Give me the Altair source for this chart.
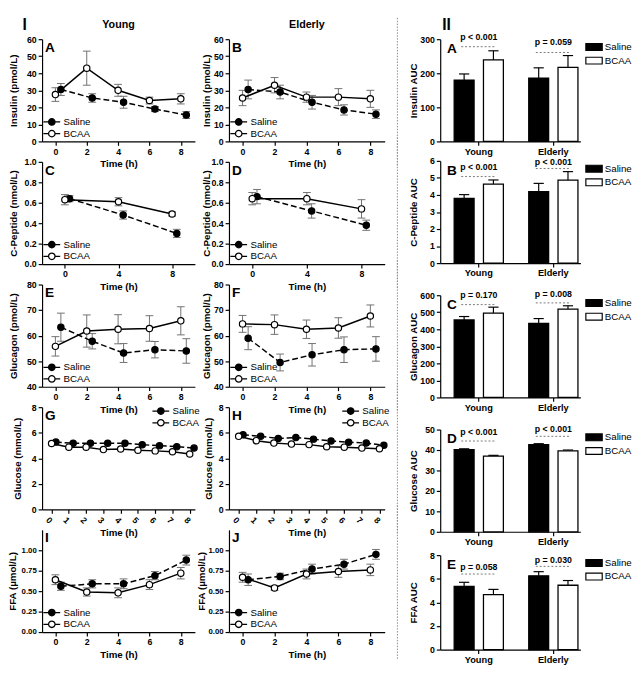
import altair as alt
import pandas as pd

FONT = "Liberation Sans"
ERR = "#707070"

groups = ["Saline", "BCAA"]
ages = ["Young", "Elderly"]

# ---------------- Section I : time courses (mean and SEM) ----------------
t5_bcaa = [0, 2, 4, 6, 8]
t5_sal = [0.35, 2.35, 4.35, 6.35, 8.35]
t3_bcaa = [0, 4, 8]
t3_sal = [0.35, 4.35, 8.35]
t9_bcaa = [0, 1, 2, 3, 4, 5, 6, 7, 8]
t9_sal = [0.25, 1.25, 2.25, 3.25, 4.25, 5.25, 6.25, 7.25, 8.25]

ins_young_sal = [30.5, 25.5, 23.0, 19.0, 15.5]
ins_young_sal_se = [3.5, 2.5, 3.5, 1.5, 2.0]
ins_young_bcaa = [27.5, 43.0, 30.0, 24.0, 25.0]
ins_young_bcaa_se = [4.0, 10.0, 3.5, 2.0, 3.0]
ins_old_sal = [30.5, 29.0, 23.0, 18.5, 16.0]
ins_old_sal_se = [5.5, 4.0, 4.0, 3.0, 2.5]
ins_old_bcaa = [25.5, 33.0, 26.0, 26.0, 25.0]
ins_old_bcaa_se = [4.5, 4.5, 3.0, 5.0, 5.0]

cp_young_sal = [0.64, 0.48, 0.30]
cp_young_sal_se = [0.03, 0.04, 0.04]
cp_young_bcaa = [0.63, 0.61, 0.49]
cp_young_bcaa_se = [0.05, 0.04, 0.02]
cp_old_sal = [0.66, 0.52, 0.38]
cp_old_sal_se = [0.07, 0.07, 0.05]
cp_old_bcaa = [0.64, 0.64, 0.54]
cp_old_bcaa_se = [0.06, 0.06, 0.09]

glg_young_sal = [63.3, 57.8, 53.2, 54.5, 54.0]
glg_young_sal_se = [5.5, 3.0, 3.7, 3.2, 4.8]
glg_young_bcaa = [55.8, 61.8, 62.5, 62.8, 65.8]
glg_young_bcaa_se = [3.8, 6.3, 5.7, 5.0, 5.5]
glg_old_sal = [59.0, 49.5, 52.5, 54.5, 54.8]
glg_old_sal_se = [4.5, 3.3, 4.4, 5.0, 4.8]
glg_old_bcaa = [64.6, 64.3, 62.5, 63.0, 67.7]
glg_old_bcaa_se = [3.3, 3.8, 3.6, 4.0, 4.3]

glc_young_sal = [5.27, 5.18, 5.18, 5.18, 5.18, 5.06, 4.99, 4.91, 4.80]
glc_young_bcaa = [5.16, 4.87, 4.87, 4.68, 4.73, 4.63, 4.58, 4.51, 4.34]
glc_old_sal = [5.84, 5.72, 5.55, 5.62, 5.50, 5.36, 5.26, 5.19, 5.02]
glc_old_bcaa = [5.72, 5.38, 5.19, 5.11, 5.07, 4.90, 4.87, 4.80, 4.75]

ffa_young_sal = [0.56, 0.59, 0.59, 0.69, 0.88]
ffa_young_sal_se = [0.05, 0.05, 0.06, 0.05, 0.06]
ffa_young_bcaa = [0.64, 0.49, 0.48, 0.58, 0.72]
ffa_young_bcaa_se = [0.06, 0.05, 0.06, 0.06, 0.07]
ffa_old_sal = [0.64, 0.68, 0.77, 0.83, 0.95]
ffa_old_sal_se = [0.07, 0.04, 0.06, 0.06, 0.06]
ffa_old_bcaa = [0.67, 0.54, 0.71, 0.74, 0.76]
ffa_old_bcaa_se = [0.06, 0.03, 0.06, 0.07, 0.07]

# ---------------- Section II : AUC bars ----------------
bar_ages = ["Young", "Young", "Elderly", "Elderly"]
bar_groups = ["Saline", "BCAA", "Saline", "BCAA"]

ins_auc = [180, 239, 186, 217]
ins_auc_se = [18, 27, 30, 35]
cp_auc = [3.80, 4.63, 4.20, 4.87]
cp_auc_se = [0.22, 0.25, 0.48, 0.50]
glg_auc = [455, 495, 435, 518]
glg_auc_se = [20, 35, 28, 20]
glc_auc = [40.2, 37.0, 42.6, 39.6]
glc_auc_se = [0.4, 0.4, 0.5, 0.4]
ffa_auc = [5.35, 4.65, 6.25, 5.45]
ffa_auc_se = [0.35, 0.45, 0.35, 0.40]

p_ins = ["p < 0.001", "p = 0.059"]
p_ins_text = [305, 292]
p_ins_line = [278, 261]
p_cp = ["p < 0.001", "p < 0.001"]
p_cp_text = [5.62, 5.95]
p_cp_line = [5.08, 5.55]
p_glg = ["p = 0.170", "p = 0.008"]
p_glg_text = [600, 605]
p_glg_line = [545, 555]
p_glc = ["p < 0.001", "p < 0.001"]
p_glc_text = [48.6, 50.0]
p_glc_line = [44.4, 46.7]
p_ffa = ["p = 0.058", "p = 0.030"]
p_ffa_text = [7.0, 7.6]
p_ffa_line = [6.4, 7.05]

# ---------------- helpers ----------------
CAP = "M-1,0L1,0"
LEG_LINE = "M-2.6,0L-1,0M1,0L2.6,0M-1,0A1,1,0,1,0,1,0A1,1,0,1,0,-1,0Z"
LEG_BOX = "M-1.2,-0.5L1.2,-0.5L1.2,0.5L-1.2,0.5Z"
ONE = pd.DataFrame({"k": [0]})


def ts_df(t_s, v_s, e_s, t_b, v_b, e_b):
    rows = []
    for g, ts, vs, es in (("Saline", t_s, v_s, e_s), ("BCAA", t_b, v_b, e_b)):
        for i, (t, v) in enumerate(zip(ts, vs)):
            e = es[i] if es else 0.0
            rows.append({"t": t, "v": v, "lo": v - e, "hi": v + e, "group": g})
    return pd.DataFrame(rows)


def label(text, x, y, size=14, align="left", baseline="middle"):
    return alt.Chart(ONE).mark_text(
        font=FONT, fontSize=size, fontWeight="bold", align=align, baseline=baseline, color="black"
    ).encode(x=alt.value(x), y=alt.value(y), text=alt.value(text))


def line_panel(df, letter, ytitle, ydom, yticks, yfmt, xdom, xticks, w, h,
               legend_xy, title_x, rotate=False, has_err=True, extra=(), ylab_size=9):
    xs = alt.Scale(domain=xdom, nice=False, zero=False)
    ys = alt.Scale(domain=ydom, nice=False, zero=False)
    xax = alt.Axis(values=xticks, title="Time (h)", format="d",
                   labelAngle=45 if rotate else 0,
                   labelAlign="center",
                   labelPadding=4 if rotate else 2)
    yax = alt.Axis(values=yticks, format=yfmt, title=ytitle, titleX=title_x, labelFontSize=ylab_size)

    def X():
        return alt.X("t:Q", scale=xs, axis=xax)

    def Y(f):
        return alt.Y(f + ":Q", scale=ys, axis=yax)

    base = alt.Chart(df)
    layers = []
    if has_err:
        layers += [
            base.mark_rule(color=ERR, strokeWidth=1).encode(x=X(), y=Y("lo"), y2=alt.Y2("hi")),
            base.mark_point(shape=CAP, size=64, color=ERR, strokeWidth=1, opacity=1).encode(x=X(), y=Y("lo")),
            base.mark_point(shape=CAP, size=64, color=ERR, strokeWidth=1, opacity=1).encode(x=X(), y=Y("hi")),
        ]
    layers.append(
        base.transform_filter(alt.datum.group == "Saline").mark_line(
            color="black", strokeWidth=1.5, strokeDash=[6, 3]).encode(x=X(), y=Y("v"))
    )
    layers.append(
        base.transform_filter(alt.datum.group == "BCAA").mark_line(
            color="black", strokeWidth=1.5).encode(x=X(), y=Y("v"))
    )
    layers.append(
        base.mark_point(filled=True, size=42, stroke="black", strokeWidth=1.2, opacity=1).encode(
            x=X(), y=Y("v"),
            fill=alt.Fill(
                "group:N",
                scale=alt.Scale(domain=groups, range=["black", "white"]),
                legend=alt.Legend(
                    orient="none", legendX=legend_xy[0], legendY=legend_xy[1], direction="vertical",
                    title=None, symbolType=LEG_LINE, symbolSize=44, symbolStrokeColor="black",
                    symbolStrokeWidth=1.3, symbolOpacity=1, labelFont=FONT, labelFontSize=10,
                    labelOffset=7, rowPadding=0, padding=0,
                ),
            ),
        )
    )
    layers.append(label(letter, 3, 9))
    layers += list(extra)
    return alt.layer(*layers).properties(width=w, height=h)


def bar_panel(vals, ses, letter, ytitle, ydom, yticks, pv, pt, pl, w, h, extra=()):
    df = pd.DataFrame({"age": bar_ages, "group": bar_groups, "v": vals,
                       "hi": [v + e for v, e in zip(vals, ses)]})
    pdf = pd.DataFrame({"age": ages, "p": pv, "ty": pt, "ly": pl})
    X = alt.X("age:N", sort=ages,
              scale=alt.Scale(domain=ages, paddingInner=0.34, paddingOuter=0.11, align=0.85),
              axis=alt.Axis(title=None, labelAngle=0, labelFontSize=9.5, labelPadding=1))
    XO = alt.XOffset("group:N", sort=groups,
                     scale=alt.Scale(domain=groups, paddingInner=0.32, paddingOuter=0))
    ys = alt.Scale(domain=ydom, nice=False, zero=True)
    yax = alt.Axis(values=yticks, title=ytitle, titleX=-22, titleFontSize=10)

    def Y(f):
        return alt.Y(f + ":Q", scale=ys, axis=yax)

    err = alt.Chart(df).mark_rule(color="black", strokeWidth=1.2).encode(
        x=X, xOffset=XO, y=Y("v"), y2=alt.Y2("hi"))
    cap = alt.Chart(df).mark_point(shape=CAP, size=110, color="black", strokeWidth=1.2, opacity=1).encode(
        x=X, xOffset=XO, y=Y("hi"))
    bars = alt.Chart(df).mark_bar(stroke="black", strokeWidth=1.3).encode(
        x=X, xOffset=XO, y=Y("v"),
        fill=alt.Fill("group:N", scale=alt.Scale(domain=groups, range=["black", "white"]),
                      legend=alt.Legend(orient="none", legendX=w + 6, legendY=0, direction="vertical",
                                        title=None, symbolType=LEG_BOX, symbolSize=196,
                                        symbolStrokeColor="black", symbolStrokeWidth=1.2,
                                        symbolOpacity=1, labelFont=FONT, labelFontSize=10,
                                        labelOffset=3, rowPadding=0, padding=0)))
    ptxt = alt.Chart(pdf).mark_text(font=FONT, fontSize=9, fontWeight="bold", baseline="middle").encode(
        x=X, y=Y("ty"), text="p:N")
    pline = alt.Chart(pdf).mark_rule(color="#777777", strokeDash=[2, 2], strokeWidth=1,
                                     xOffset=-18, x2Offset=18).encode(
        x=X, x2=alt.X2(field="age"), y=Y("ly"))
    return alt.layer(err, cap, bars, pline, ptxt, label(letter, 7, 10), *extra).properties(width=w, height=h)


def sep(w, h, top, bottom):
    return alt.Chart(ONE).mark_rule(color="#8a8a8a", strokeDash=[1.5, 1.5], strokeWidth=1).encode(
        x=alt.value(w + 13), y=alt.value(top), y2=alt.value(bottom))


def spacer(w, h):
    return alt.Chart(ONE).mark_point(opacity=0).encode(
        x=alt.value(0), y=alt.value(0)).properties(width=w, height=h)


# ---------------- build panels ----------------
WL, WM, WR, H = 157, 160, 144, 105
XD5 = [-0.85, 8.9]
XD3 = [-1.7, 9.7]
XD9 = [-0.55, 8.3]
BL = (5, H - 25)

left = [
    line_panel(ts_df(t5_sal, ins_young_sal, ins_young_sal_se, t5_bcaa, ins_young_bcaa, ins_young_bcaa_se),
               "A", "Insulin (pmol/L)", [0, 60], [0, 10, 20, 30, 40, 50, 60], "d", XD5, [0, 2, 4, 6, 8],
               WL, H, BL, -24,
               extra=[label("I", -18, -22, size=16, align="center", baseline="top"),
                      label("Young", WL / 2, -15, size=11, align="center")]),
    line_panel(ts_df(t3_sal, cp_young_sal, cp_young_sal_se, t3_bcaa, cp_young_bcaa, cp_young_bcaa_se),
               "C", "C-Peptide (nmol/L)", [0, 1.0], [0, 0.2, 0.4, 0.6, 0.8, 1.0], ".1f", XD3, [0, 4, 8],
               WL, H, BL, -24),
    line_panel(ts_df(t5_sal, glg_young_sal, glg_young_sal_se, t5_bcaa, glg_young_bcaa, glg_young_bcaa_se),
               "E", "Glucagon (pmol/L)", [40, 80], [40, 50, 60, 70, 80], "d", XD5, [0, 2, 4, 6, 8],
               WL, H, BL, -24),
    line_panel(ts_df(t9_sal, glc_young_sal, None, t9_bcaa, glc_young_bcaa, None),
               "G", "Glucose (mmol/L)", [0, 8], [0, 2, 4, 6, 8], "d", XD9, t9_bcaa,
               WL, H, (WL - 40, -1), -20, rotate=True, has_err=False),
    line_panel(ts_df(t5_sal, ffa_young_sal, ffa_young_sal_se, t5_bcaa, ffa_young_bcaa, ffa_young_bcaa_se),
               "I", "FFA (µmol/L)", [0, 1.25], [0, 0.25, 0.5, 0.75, 1.0], ".2f", XD5, [0, 2, 4, 6, 8],
               WL, H, BL, -25, ylab_size=8),
]

middle = [
    line_panel(ts_df(t5_sal, ins_old_sal, ins_old_sal_se, t5_bcaa, ins_old_bcaa, ins_old_bcaa_se),
               "B", "Insulin (pmol/L)", [0, 60], [0, 10, 20, 30, 40, 50, 60], "d", XD5, [0, 2, 4, 6, 8],
               WM, H, BL, -18,
               extra=[label("Elderly", WM / 2, -15, size=11, align="center"), sep(WM, H, -22, H + 25)]),
    line_panel(ts_df(t3_sal, cp_old_sal, cp_old_sal_se, t3_bcaa, cp_old_bcaa, cp_old_bcaa_se),
               "D", "C-Peptide (nmol/L)", [0, 1.0], [0, 0.2, 0.4, 0.6, 0.8, 1.0], ".1f", XD3, [0, 4, 8],
               WM, H, BL, -18, extra=[sep(WM, H, -25, H + 25)]),
    line_panel(ts_df(t5_sal, glg_old_sal, glg_old_sal_se, t5_bcaa, glg_old_bcaa, glg_old_bcaa_se),
               "F", "Glucagon (pmol/L)", [40, 80], [40, 50, 60, 70, 80], "d", XD5, [0, 2, 4, 6, 8],
               WM, H, BL, -18, extra=[sep(WM, H, -25, H + 25)]),
    line_panel(ts_df(t9_sal, glc_old_sal, None, t9_bcaa, glc_old_bcaa, None),
               "H", "Glucose (mmol/L)", [0, 8], [0, 2, 4, 6, 8], "d", XD9, t9_bcaa,
               WM, H, (WM - 40, -1), -16, rotate=True, has_err=False, extra=[sep(WM, H, -25, H + 25)]),
    line_panel(ts_df(t5_sal, ffa_old_sal, ffa_old_sal_se, t5_bcaa, ffa_old_bcaa, ffa_old_bcaa_se),
               "J", "FFA (µmol/L)", [0, 1.25], [0, 0.25, 0.5, 0.75, 1.0], ".2f", XD5, [0, 2, 4, 6, 8],
               WM, H, BL, -23, extra=[sep(WM, H, -25, H + 28)], ylab_size=8),
]

bA = bar_panel(ins_auc, ins_auc_se, "A", "Insulin AUC", [0, 300], [0, 100, 200, 300],
               p_ins, p_ins_text, p_ins_line, WR, H, extra=[label("II", 2, -22, size=16, baseline="top")])
bB = bar_panel(cp_auc, cp_auc_se, "B", "C-Peptide AUC", [0, 6], [0, 1, 2, 3, 4, 5, 6],
               p_cp, p_cp_text, p_cp_line, WR, H)
bC = bar_panel(glg_auc, glg_auc_se, "C", "Glucagon AUC", [0, 600], [0, 100, 200, 300, 400, 500, 600],
               p_glg, p_glg_text, p_glg_line, WR, H)
bD = bar_panel(glc_auc, glc_auc_se, "D", "Glucose AUC", [0, 50], [0, 10, 20, 30, 40, 50],
               p_glc, p_glc_text, p_glc_line, WR, H)
bE = bar_panel(ffa_auc, ffa_auc_se, "E", "FFA AUC", [0, 8], [0, 2, 4, 6, 8],
               p_ffa, p_ffa_text, p_ffa_line, WR, 97)


def indep(c):
    return c.resolve_scale(fill="independent", x="independent",
                           y="independent").resolve_legend(fill="independent")


col_left = indep(alt.vconcat(*left, spacing=21, bounds="flush"))
col_mid = indep(alt.vconcat(*middle, spacing=21, bounds="flush"))
col_right = indep(alt.vconcat(bA, spacer(WR, 20), bB, spacer(WR, 33), bC, spacer(WR, 33), bD,
                              spacer(WR, 24), bE, spacing=0, bounds="flush"))

two = indep(alt.hconcat(col_left, col_mid, spacing=-3))
chart = indep(alt.hconcat(two, col_right, spacing=11)).properties(padding=0)

chart = chart.configure(font=FONT).configure_view(stroke=None).configure_axis(
    labelFont=FONT, labelFontSize=9, labelFontWeight="bold", labelColor="black",
    titleFont=FONT, titleFontSize=10, titleFontWeight="bold", titleColor="black",
    domainColor="black", tickColor="black", domainWidth=1.2, tickWidth=1.2, tickSize=4,
    labelPadding=2, titlePadding=3, grid=False,
)

chart.save("out.html", embed_options={"renderer": "svg", "actions": False})
